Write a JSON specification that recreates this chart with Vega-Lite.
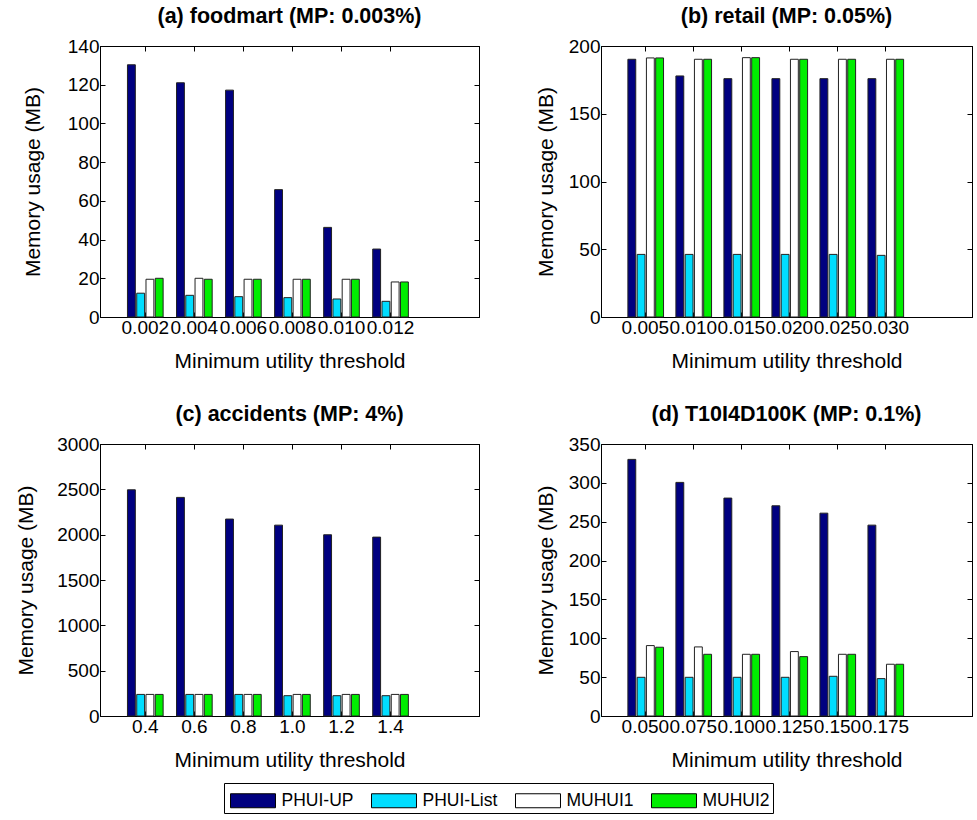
{
  "$schema": "https://vega.github.io/schema/vega-lite/v6.json",
  "background": "white",
  "padding": {"left": 15, "top": 5, "right": 0, "bottom": 0},
  "datasets": {
    "a": [
      {"t": "0.002", "m": "PHUI-UP", "v": 130.3}, {"t": "0.002", "m": "PHUI-List", "v": 12.3}, {"t": "0.002", "m": "MUHUI1", "v": 19.5}, {"t": "0.002", "m": "MUHUI2", "v": 20},
      {"t": "0.004", "m": "PHUI-UP", "v": 121}, {"t": "0.004", "m": "PHUI-List", "v": 11.2}, {"t": "0.004", "m": "MUHUI1", "v": 20}, {"t": "0.004", "m": "MUHUI2", "v": 19.5},
      {"t": "0.006", "m": "PHUI-UP", "v": 117.2}, {"t": "0.006", "m": "PHUI-List", "v": 10.5}, {"t": "0.006", "m": "MUHUI1", "v": 19.5}, {"t": "0.006", "m": "MUHUI2", "v": 19.5},
      {"t": "0.008", "m": "PHUI-UP", "v": 65.8}, {"t": "0.008", "m": "PHUI-List", "v": 10}, {"t": "0.008", "m": "MUHUI1", "v": 19.5}, {"t": "0.008", "m": "MUHUI2", "v": 19.5},
      {"t": "0.010", "m": "PHUI-UP", "v": 46.3}, {"t": "0.010", "m": "PHUI-List", "v": 9.3}, {"t": "0.010", "m": "MUHUI1", "v": 19.5}, {"t": "0.010", "m": "MUHUI2", "v": 19.5},
      {"t": "0.012", "m": "PHUI-UP", "v": 35.1}, {"t": "0.012", "m": "PHUI-List", "v": 8.1}, {"t": "0.012", "m": "MUHUI1", "v": 18.1}, {"t": "0.012", "m": "MUHUI2", "v": 18.1}
    ],
    "b": [
      {"t": "0.005", "m": "PHUI-UP", "v": 190.2}, {"t": "0.005", "m": "PHUI-List", "v": 46.2}, {"t": "0.005", "m": "MUHUI1", "v": 191.2}, {"t": "0.005", "m": "MUHUI2", "v": 191.2},
      {"t": "0.010", "m": "PHUI-UP", "v": 177.9}, {"t": "0.010", "m": "PHUI-List", "v": 46.2}, {"t": "0.010", "m": "MUHUI1", "v": 190.2}, {"t": "0.010", "m": "MUHUI2", "v": 190.2},
      {"t": "0.015", "m": "PHUI-UP", "v": 175.9}, {"t": "0.015", "m": "PHUI-List", "v": 46.2}, {"t": "0.015", "m": "MUHUI1", "v": 191.4}, {"t": "0.015", "m": "MUHUI2", "v": 191.4},
      {"t": "0.020", "m": "PHUI-UP", "v": 175.9}, {"t": "0.020", "m": "PHUI-List", "v": 46.2}, {"t": "0.020", "m": "MUHUI1", "v": 190.2}, {"t": "0.020", "m": "MUHUI2", "v": 190.2},
      {"t": "0.025", "m": "PHUI-UP", "v": 175.9}, {"t": "0.025", "m": "PHUI-List", "v": 46.2}, {"t": "0.025", "m": "MUHUI1", "v": 190.2}, {"t": "0.025", "m": "MUHUI2", "v": 190.2},
      {"t": "0.030", "m": "PHUI-UP", "v": 175.9}, {"t": "0.030", "m": "PHUI-List", "v": 45.5}, {"t": "0.030", "m": "MUHUI1", "v": 190.2}, {"t": "0.030", "m": "MUHUI2", "v": 190.2}
    ],
    "c": [
      {"t": "0.4", "m": "PHUI-UP", "v": 2495}, {"t": "0.4", "m": "PHUI-List", "v": 238}, {"t": "0.4", "m": "MUHUI1", "v": 238}, {"t": "0.4", "m": "MUHUI2", "v": 238},
      {"t": "0.6", "m": "PHUI-UP", "v": 2411}, {"t": "0.6", "m": "PHUI-List", "v": 238}, {"t": "0.6", "m": "MUHUI1", "v": 238}, {"t": "0.6", "m": "MUHUI2", "v": 238},
      {"t": "0.8", "m": "PHUI-UP", "v": 2172}, {"t": "0.8", "m": "PHUI-List", "v": 238}, {"t": "0.8", "m": "MUHUI1", "v": 238}, {"t": "0.8", "m": "MUHUI2", "v": 238},
      {"t": "1.0", "m": "PHUI-UP", "v": 2105}, {"t": "1.0", "m": "PHUI-List", "v": 224}, {"t": "1.0", "m": "MUHUI1", "v": 238}, {"t": "1.0", "m": "MUHUI2", "v": 238},
      {"t": "1.2", "m": "PHUI-UP", "v": 1999}, {"t": "1.2", "m": "PHUI-List", "v": 224}, {"t": "1.2", "m": "MUHUI1", "v": 238}, {"t": "1.2", "m": "MUHUI2", "v": 238},
      {"t": "1.4", "m": "PHUI-UP", "v": 1973}, {"t": "1.4", "m": "PHUI-List", "v": 224}, {"t": "1.4", "m": "MUHUI1", "v": 238}, {"t": "1.4", "m": "MUHUI2", "v": 238}
    ],
    "d": [
      {"t": "0.050", "m": "PHUI-UP", "v": 330.2}, {"t": "0.050", "m": "PHUI-List", "v": 49.8}, {"t": "0.050", "m": "MUHUI1", "v": 90.6}, {"t": "0.050", "m": "MUHUI2", "v": 88.5},
      {"t": "0.075", "m": "PHUI-UP", "v": 300.6}, {"t": "0.075", "m": "PHUI-List", "v": 49.8}, {"t": "0.075", "m": "MUHUI1", "v": 88.9}, {"t": "0.075", "m": "MUHUI2", "v": 79.4},
      {"t": "0.100", "m": "PHUI-UP", "v": 280.4}, {"t": "0.100", "m": "PHUI-List", "v": 49.8}, {"t": "0.100", "m": "MUHUI1", "v": 79.4}, {"t": "0.100", "m": "MUHUI2", "v": 79.4},
      {"t": "0.125", "m": "PHUI-UP", "v": 270.5}, {"t": "0.125", "m": "PHUI-List", "v": 49.8}, {"t": "0.125", "m": "MUHUI1", "v": 82.9}, {"t": "0.125", "m": "MUHUI2", "v": 76.4},
      {"t": "0.150", "m": "PHUI-UP", "v": 261}, {"t": "0.150", "m": "PHUI-List", "v": 51.1}, {"t": "0.150", "m": "MUHUI1", "v": 79.4}, {"t": "0.150", "m": "MUHUI2", "v": 79.4},
      {"t": "0.175", "m": "PHUI-UP", "v": 245.6}, {"t": "0.175", "m": "PHUI-List", "v": 48.1}, {"t": "0.175", "m": "MUHUI1", "v": 66.6}, {"t": "0.175", "m": "MUHUI2", "v": 66.6}
    ]
  },
  "config": {
    "font": "Liberation Sans",
    "view": {"stroke": "black", "strokeWidth": 1},
    "axis": {
      "domainColor": "black", "tickColor": "black", "labelColor": "black", "titleColor": "black",
      "labelFontSize": 19, "titleFontSize": 21, "titleFontWeight": "normal", "grid": false,
      "tickSize": -5, "labelPadding": 6, "labelOverlap": false, "labelFlush": false, "labelBound": false
    },
    "axisX": {"titlePadding": 13},
    "title": {"fontSize": 21.5, "fontWeight": "bold", "color": "black", "offset": 10},
    "bar": {"stroke": "#222222", "strokeWidth": 1}
  },
  "bounds": "flush",
  "spacing": {"row": 127, "column": 122},
  "columns": 2,
  "concat": [
    {
      "title": "(a) foodmart (MP: 0.003%)",
      "width": 379, "height": 271,
      "data": {"name": "a"},
      "encoding": {
        "x": {"field": "t", "type": "ordinal", "sort": null, "scale": {"paddingInner": 0.273, "paddingOuter": 1.1365, "align": 0.28}},
        "xOffset": {"field": "m", "type": "nominal", "sort": ["PHUI-UP", "PHUI-List", "MUHUI1", "MUHUI2"], "scale": {"paddingInner": 0.15}},
        "y": {"field": "v", "type": "quantitative", "scale": {"domain": [0, 140], "nice": false}},
        "color": {"field": "m", "type": "nominal", "sort": ["PHUI-UP", "PHUI-List", "MUHUI1", "MUHUI2"],
          "scale": {"domain": ["PHUI-UP", "PHUI-List", "MUHUI1", "MUHUI2"], "range": ["#000080", "#00DDFF", "#FFFFFF", "#00EE00"]},
          "legend": {"orient": "none", "legendX": 124, "legendY": 737, "direction": "horizontal", "title": null,
            "symbolType": "M-1.607,-0.5H1.607V0.5H-1.607Z", "symbolSize": 784, "symbolOffset": 11.5, "symbolStrokeColor": "black", "symbolStrokeWidth": 1, "symbolOpacity": 1,
            "strokeColor": "black", "padding": 3, "labelFontSize": 17.5, "labelColor": "black", "columnPadding": 14, "labelOffset": 14}}
      },
      "layer": [
        {"mark": "bar", "encoding": {
          "x": {"field": "t", "type": "ordinal", "sort": null, "axis": {"title": "Minimum utility threshold", "labelAngle": 0}},
          "y": {"field": "v", "type": "quantitative", "axis": {"title": "Memory usage (MB)", "titlePadding": 24, "values": [0, 20, 40, 60, 80, 100, 120, 140]}}
        }},
        {"mark": {"type": "bar", "opacity": 0}, "encoding": {
          "x": {"field": "t", "type": "ordinal", "sort": null, "axis": {"orient": "top", "labels": false, "title": null}},
          "y": {"field": "v", "type": "quantitative", "axis": {"orient": "right", "labels": false, "title": null, "values": [0, 20, 40, 60, 80, 100, 120, 140]}}
        }}
      ],
      "resolve": {"axis": {"x": "independent", "y": "independent"}}
    },
    {
      "title": "(b) retail (MP: 0.05%)",
      "width": 371, "height": 271,
      "data": {"name": "b"},
      "encoding": {
        "x": {"field": "t", "type": "ordinal", "sort": null, "scale": {"paddingInner": 0.273, "paddingOuter": 1.1365, "align": 0.28}},
        "xOffset": {"field": "m", "type": "nominal", "sort": ["PHUI-UP", "PHUI-List", "MUHUI1", "MUHUI2"], "scale": {"paddingInner": 0.15}},
        "y": {"field": "v", "type": "quantitative", "scale": {"domain": [0, 200], "nice": false}},
        "color": {"field": "m", "type": "nominal", "sort": ["PHUI-UP", "PHUI-List", "MUHUI1", "MUHUI2"]}
      },
      "layer": [
        {"mark": "bar", "encoding": {
          "x": {"field": "t", "type": "ordinal", "sort": null, "axis": {"title": "Minimum utility threshold", "labelAngle": 0}},
          "y": {"field": "v", "type": "quantitative", "axis": {"title": "Memory usage (MB)", "titlePadding": 12, "values": [0, 50, 100, 150, 200]}}
        }},
        {"mark": {"type": "bar", "opacity": 0}, "encoding": {
          "x": {"field": "t", "type": "ordinal", "sort": null, "axis": {"orient": "top", "labels": false, "title": null}},
          "y": {"field": "v", "type": "quantitative", "axis": {"orient": "right", "labels": false, "title": null, "values": [0, 50, 100, 150, 200]}}
        }}
      ],
      "resolve": {"axis": {"x": "independent", "y": "independent"}}
    },
    {
      "title": "(c) accidents (MP: 4%)",
      "width": 379, "height": 272,
      "data": {"name": "c"},
      "encoding": {
        "x": {"field": "t", "type": "ordinal", "sort": null, "scale": {"paddingInner": 0.273, "paddingOuter": 1.1365, "align": 0.28}},
        "xOffset": {"field": "m", "type": "nominal", "sort": ["PHUI-UP", "PHUI-List", "MUHUI1", "MUHUI2"], "scale": {"paddingInner": 0.15}},
        "y": {"field": "v", "type": "quantitative", "scale": {"domain": [0, 3000], "nice": false}},
        "color": {"field": "m", "type": "nominal", "sort": ["PHUI-UP", "PHUI-List", "MUHUI1", "MUHUI2"]}
      },
      "layer": [
        {"mark": "bar", "encoding": {
          "x": {"field": "t", "type": "ordinal", "sort": null, "axis": {"title": "Minimum utility threshold", "labelAngle": 0}},
          "y": {"field": "v", "type": "quantitative", "axis": {"title": "Memory usage (MB)", "titlePadding": 20, "format": "d", "values": [0, 500, 1000, 1500, 2000, 2500, 3000]}}
        }},
        {"mark": {"type": "bar", "opacity": 0}, "encoding": {
          "x": {"field": "t", "type": "ordinal", "sort": null, "axis": {"orient": "top", "labels": false, "title": null}},
          "y": {"field": "v", "type": "quantitative", "axis": {"orient": "right", "labels": false, "title": null, "values": [0, 500, 1000, 1500, 2000, 2500, 3000]}}
        }}
      ],
      "resolve": {"axis": {"x": "independent", "y": "independent"}}
    },
    {
      "title": "(d) T10I4D100K (MP: 0.1%)",
      "width": 371, "height": 272,
      "data": {"name": "d"},
      "encoding": {
        "x": {"field": "t", "type": "ordinal", "sort": null, "scale": {"paddingInner": 0.273, "paddingOuter": 1.1365, "align": 0.28}},
        "xOffset": {"field": "m", "type": "nominal", "sort": ["PHUI-UP", "PHUI-List", "MUHUI1", "MUHUI2"], "scale": {"paddingInner": 0.15}},
        "y": {"field": "v", "type": "quantitative", "scale": {"domain": [0, 350], "nice": false}},
        "color": {"field": "m", "type": "nominal", "sort": ["PHUI-UP", "PHUI-List", "MUHUI1", "MUHUI2"]}
      },
      "layer": [
        {"mark": "bar", "encoding": {
          "x": {"field": "t", "type": "ordinal", "sort": null, "axis": {"title": "Minimum utility threshold", "labelAngle": 0}},
          "y": {"field": "v", "type": "quantitative", "axis": {"title": "Memory usage (MB)", "titlePadding": 12, "values": [0, 50, 100, 150, 200, 250, 300, 350]}}
        }},
        {"mark": {"type": "bar", "opacity": 0}, "encoding": {
          "x": {"field": "t", "type": "ordinal", "sort": null, "axis": {"orient": "top", "labels": false, "title": null}},
          "y": {"field": "v", "type": "quantitative", "axis": {"orient": "right", "labels": false, "title": null, "values": [0, 50, 100, 150, 200, 250, 300, 350]}}
        }}
      ],
      "resolve": {"axis": {"x": "independent", "y": "independent"}}
    }
  ]
}
